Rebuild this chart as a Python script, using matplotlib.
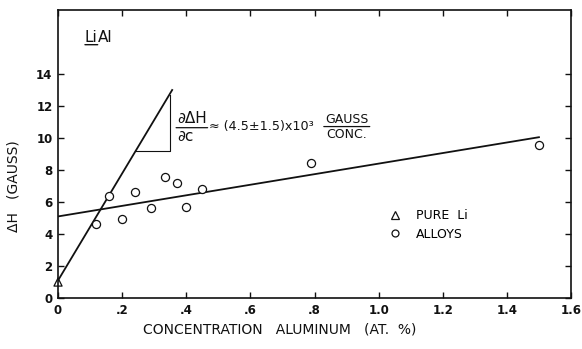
import matplotlib.pyplot as plt
from matplotlib.lines import Line2D

plt.rcParams["font.family"] = ["DejaVu Sans"]

# line width of ESR signal vs Al concentration in Li
alloy_conc = [0.12, 0.16, 0.20, 0.24, 0.29, 0.335, 0.37, 0.40, 0.45, 0.79, 1.50]
alloy_dh = [4.6, 6.35, 4.95, 6.6, 5.65, 7.55, 7.2, 5.7, 6.8, 8.45, 9.55]
pure_conc = [0.0]
pure_dh = [1.0]

# hand-drawn fits
steep_x = [0.0, 0.356]
steep_y = [1.1, 13.0]
shallow_x = [0.0, 1.5]
shallow_y = [5.1, 10.05]

# slope construction on the steep fit
slope_x = [0.242, 0.348, 0.348]
slope_y = [9.18, 9.18, 12.7]

x_ticks = [0.0, 0.2, 0.4, 0.6, 0.8, 1.0, 1.2, 1.4, 1.6]
x_tick_labels = ["0", ".2", ".4", ".6", ".8", "1.0", "1.2", "1.4", "1.6"]
y_ticks = [0, 2, 4, 6, 8, 10, 12, 14]

ink = "#111111"


def fraction(ax, x, y, top, bottom, size, center=False):
    """Stacked fraction: numerator text, bar under it, denominator below."""
    num = ax.text(x, y, top, fontsize=size, va="bottom", color=ink)
    ax.annotate("", xy=(-0.03, -0.08), xycoords=num, xytext=(1.03, -0.08),
                textcoords=num,
                arrowprops=dict(arrowstyle="-", color=ink, lw=0.9,
                                shrinkA=0, shrinkB=0))
    ax.annotate(bottom, xy=(0.5 if center else 0, -0.2), xycoords=num,
                ha="center" if center else "left", va="top",
                fontsize=size, color=ink)


fig = plt.figure(figsize=(5.82, 3.49), dpi=100)
ax = fig.add_axes([0.0997, 0.146, 0.8814, 0.8254])

ax.plot(steep_x, steep_y, color=ink, lw=1.3)
ax.plot(shallow_x, shallow_y, color=ink, lw=1.3)
ax.plot(slope_x, slope_y, color=ink, lw=0.8)

ax.scatter(pure_conc, pure_dh, marker="^", s=34, facecolors="none",
           edgecolors=ink, linewidths=0.9, clip_on=False, zorder=3)
ax.scatter(alloy_conc, alloy_dh, marker="o", s=34, facecolors="white",
           edgecolors=ink, linewidths=0.9, zorder=3)

ax.set_xlim(0, 1.6)
ax.set_ylim(0, 18)
ax.set_xticks(x_ticks)
ax.set_xticklabels(x_tick_labels)
ax.set_yticks(y_ticks)
ax.tick_params(direction="in", length=4, width=1.0, top=True, right=True,
               labelsize=8.5, colors=ink, pad=4)
for lbl in ax.get_xticklabels() + ax.get_yticklabels():
    lbl.set_fontweight("bold")
for sp in ax.spines.values():
    sp.set_linewidth(1.2)
    sp.set_color(ink)

ax.set_xlabel("CONCENTRATION   ALUMINUM   (AT.  %)", fontsize=10, color=ink)
ax.xaxis.set_label_coords(0.433, -0.085)
ax.set_ylabel("ΔH   (GAUSS)", fontsize=10, color=ink)
ax.yaxis.set_label_coords(-0.074, 0.39)

# sample label with underlined Li
li = ax.text(0.084, 16.3, "Li", fontsize=11, va="center", color=ink)
ax.annotate("Al", xy=(1, 0.5), xycoords=li, va="center", fontsize=11, color=ink)
ax.annotate("", xy=(0, 0.0), xycoords=li, xytext=(1, 0.0), textcoords=li,
            arrowprops=dict(arrowstyle="-", color=ink, lw=1.0,
                            shrinkA=0, shrinkB=0))

# slope annotation
fraction(ax, 0.371, 10.72, "∂ΔH", "∂c", 11)
ax.text(0.472, 10.7, "≈ (4.5±1.5)x10³", fontsize=9.2, va="center", color=ink)
fraction(ax, 0.833, 10.78, "GAUSS", "CONC.", 9, center=True)

handles = [
    Line2D([], [], marker="^", ls="none", ms=6, mfc="none", mec=ink, mew=0.9),
    Line2D([], [], marker="o", ls="none", ms=5, mfc="none", mec=ink, mew=0.9),
]
ax.legend(handles, ["PURE  Li", "ALLOYS"], loc="center left",
          bbox_to_anchor=(0.645, 0.254), frameon=False, fontsize=9,
          handlelength=1.0, handletextpad=1.2, labelspacing=0.45, borderpad=0,
          borderaxespad=0)

fig.savefig("out.png", dpi=100, facecolor="white")
